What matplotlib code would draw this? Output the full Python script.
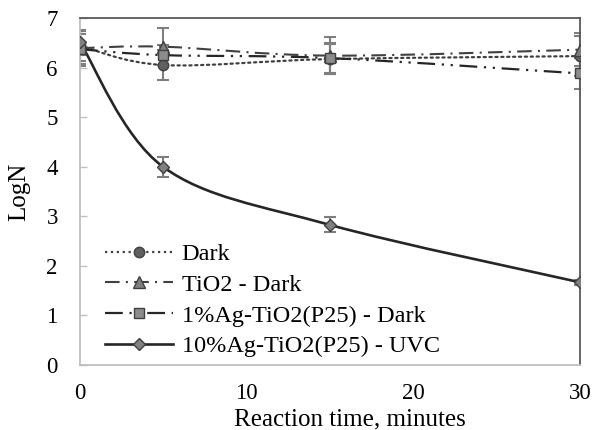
import numpy as np
import matplotlib
matplotlib.use('Agg')
import matplotlib.pyplot as plt
from matplotlib.path import Path
from matplotlib.patches import PathPatch
from matplotlib.lines import Line2D

plt.rcParams['font.family'] = ['Liberation Serif', 'DejaVu Serif']

# data
time_min = [0, 5, 15, 30]
dark = [6.45, 6.06, 6.18, 6.24]
dark_err = [0.3, 0.3, 0.3, 0.4]
tio2 = [6.40, 6.43, 6.25, 6.37]
tio2_err = [0.35, 0.37, 0.38, 0.33]
ag1 = [6.38, 6.26, 6.20, 5.89]
ag1_err = [0.3, 0.2, 0.3, 0.32]
ag10 = [6.52, 4.00, 2.83, 1.67]
ag10_err = [0.25, 0.2, 0.15, 0.05]

labels = ['Dark', 'TiO2 - Dark', '1%Ag-TiO2(P25) - Dark', '10%Ag-TiO2(P25) - UVC']
x_ticks = [0, 10, 20, 30]
y_ticks = [0, 1, 2, 3, 4, 5, 6, 7]


def smooth_path(x, y):
    # Excel-style smoothed line as cubic Bezier segments through the points
    pts = np.column_stack([x, y]).astype(float)
    n = len(pts)
    verts = [pts[0]]
    codes = [Path.MOVETO]
    for i in range(n - 1):
        p0 = pts[i - 1] if i > 0 else pts[i]
        p1 = pts[i]
        p2 = pts[i + 1]
        p3 = pts[i + 2] if i + 2 < n else pts[i + 1]
        c1 = p1 + (p2 - p0) / 6.0
        c2 = p2 - (p3 - p1) / 6.0
        verts += [c1, c2, p2]
        codes += [Path.CURVE4] * 3
    return Path(verts, codes)


fig = plt.figure(figsize=(6, 4.3), dpi=100)
ax = fig.add_axes([0.1333, 0.1512, 0.8334, 0.8058])

series = [
    (dark, dark_err, ':', 'o', 7.5, '#404040', '#606060', 1.6),
    (tio2, tio2_err, (0, (7, 3, 1, 3)), '^', 9, '#404040', '#7f7f7f', 1.5),
    (ag1, ag1_err, (0, (8, 3, 1, 3, 1, 3)), 's', 7, '#262626', '#8c8c8c', 1.6),
    (ag10, ag10_err, '-', 'D', 6, '#262626', '#808080', 1.9),
]

handles = []
for k, (vals, err, ls, mk, ms, lc, fc, lw) in enumerate(series):
    patch = PathPatch(smooth_path(time_min, vals), fill=False, edgecolor=lc,
                      linewidth=lw, linestyle=ls, zorder=2 + k,
                      capstyle='round' if ls == ':' else 'butt')
    ax.add_patch(patch)
    ax.errorbar(time_min, vals, yerr=err, fmt='none', ecolor='#7f7f7f',
                elinewidth=1.5, capsize=4.5, capthick=1.5, zorder=1.5)
    ax.plot(time_min, vals, linestyle='none', marker=mk, markersize=ms,
            markerfacecolor=fc, markeredgecolor='#404040', markeredgewidth=1.0,
            zorder=6 + k)
    handles.append(Line2D([], [], color=lc, linestyle=ls, linewidth=lw,
                          marker=mk, markersize=ms, markerfacecolor=fc,
                          markeredgecolor='#404040', markeredgewidth=1.0))

ax.set_xlim(0, 30)
ax.set_ylim(0, 7)
ax.set_xticks(x_ticks)
ax.set_yticks(y_ticks)
ax.tick_params(axis='y', direction='in', length=5, width=1, color='#bfbfbf',
               labelsize=16.5, pad=16)
ax.tick_params(axis='x', length=0, labelsize=16.5, pad=13)

for side in ['left', 'bottom']:
    ax.spines[side].set_color('#bfbfbf')
    ax.spines[side].set_linewidth(1.3)
for side in ['top', 'right']:
    ax.spines[side].set_color('#595959')
    ax.spines[side].set_linewidth(1.3)

ax.set_xlabel('Reaction time, minutes', fontsize=18)
ax.xaxis.set_label_coords(0.54, -0.125)
ax.set_ylabel('LogN', fontsize=18)
ax.yaxis.set_label_coords(-0.1, 0.5)

ax.legend(handles, labels, loc='lower left', bbox_to_anchor=(0.05, 0.022),
          frameon=False, fontsize=17.5, handlelength=2.8, handletextpad=0.35,
          labelspacing=0.36, borderpad=0, borderaxespad=0, numpoints=1)

fig.savefig('out.png', dpi=100)
